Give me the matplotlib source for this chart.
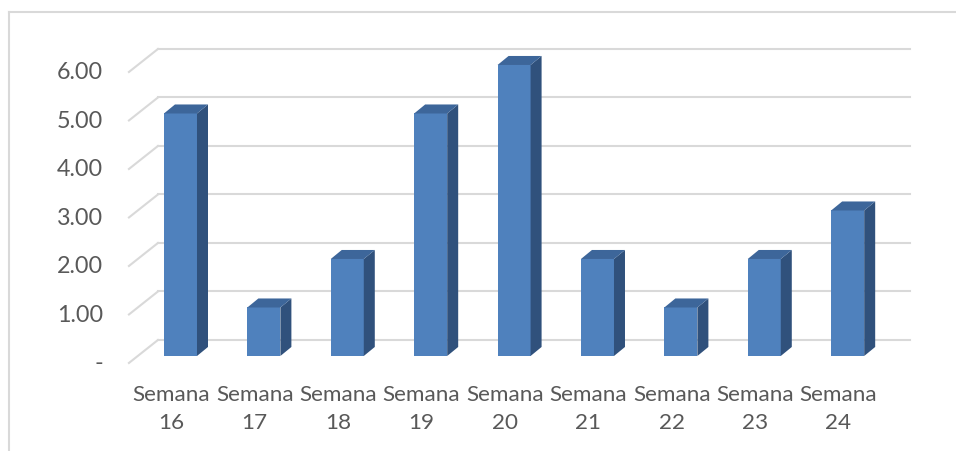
import matplotlib
matplotlib.use("Agg")
import matplotlib.pyplot as plt
from matplotlib.patches import Polygon
from matplotlib.lines import Line2D

# data
semanas = ["16", "17", "18", "19", "20", "21", "22", "23", "24"]
valores = [5, 1, 2, 5, 6, 2, 1, 2, 3]
ticks = [0, 1, 2, 3, 4, 5, 6]
tick_labels = ["-", "1.00", "2.00", "3.00", "4.00", "5.00", "6.00"]

plt.rcParams["font.family"] = ["Lato", "DejaVu Sans"]
txt_color = "#595959"
grid_color = "#D9D9D9"
front = "#4F81BD"
side = "#30517C"
top = "#3D669A"

fig = plt.figure(figsize=(9.56, 4.51), dpi=100)
ax = fig.add_axes([0, 0, 1, 1])
ax.set_xlim(-2.164, 9.299)
ax.set_ylim(-1.959, 7.34)
ax.axis("off")

# fake 3d geometry (in data units)
floor_x0, wall_x0, wall_x1 = -0.618, -0.270, 8.747
floor_dy, wall_dy = -0.144, 0.330
bw, dx, dy = 0.396, 0.132, 0.186

# back wall gridlines and floor diagonals
for t, lab in zip(ticks, tick_labels):
    ax.plot([wall_x0, wall_x1], [t + wall_dy, t + wall_dy], color=grid_color, lw=1.5, zorder=1)
    ax.plot([floor_x0, wall_x0], [t + floor_dy, t + wall_dy], color=grid_color, lw=1.5, zorder=1)
    ax.text(-0.929, t - 0.165, lab, ha="right", va="center", fontsize=16.8, color=txt_color)

# bars
xs = list(range(len(valores)))
lefts = [x - bw / 2 for x in xs]
ax.bar(lefts, valores, width=bw, align="edge", color=front, zorder=3)
for l, v in zip(lefts, valores):
    r = l + bw
    ax.add_patch(Polygon([(r, 0), (r + dx, dy), (r + dx, v + dy), (r, v)],
                         closed=True, facecolor=side, edgecolor="none", zorder=3))
    ax.add_patch(Polygon([(l, v), (l + dx, v + dy), (r + dx, v + dy), (r, v)],
                         closed=True, facecolor=top, edgecolor="none", zorder=3))

# category labels
for x, s in zip(xs, semanas):
    ax.text(x - 0.11, -0.804, "Semana", ha="center", va="center", fontsize=16.2, color=txt_color)
    ax.text(x - 0.11, -1.381, s, ha="center", va="center", fontsize=16.2, color=txt_color)

# chart area border
fig.add_artist(Line2D([9 / 956, 9 / 956], [0, 1 - 12 / 451], color=grid_color, lw=1.5))
fig.add_artist(Line2D([9 / 956, 1], [1 - 12 / 451, 1 - 12 / 451], color=grid_color, lw=1.5))

fig.savefig("out.png", dpi=100)
